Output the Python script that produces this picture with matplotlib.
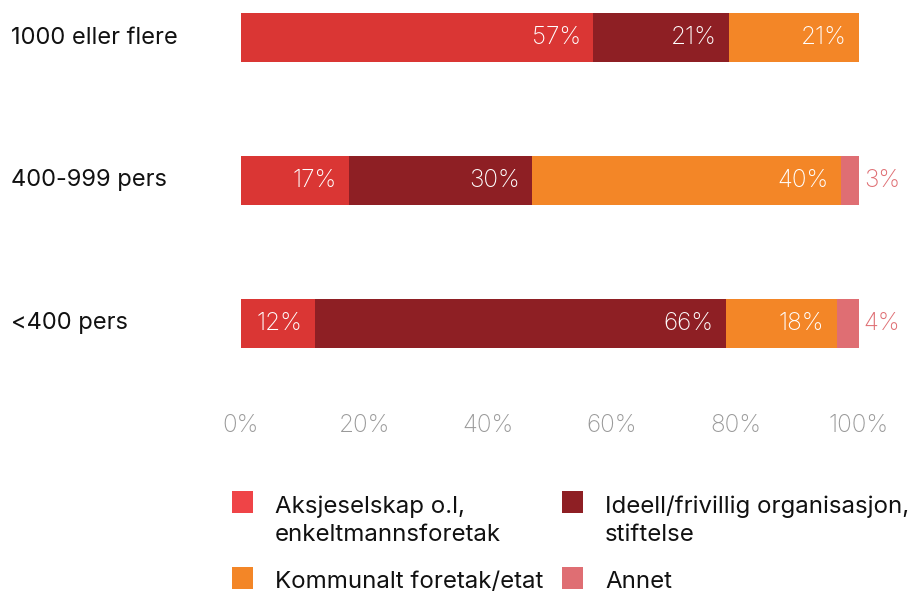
import matplotlib
matplotlib.use("Agg")
import matplotlib.pyplot as plt
from matplotlib.patches import Rectangle
from matplotlib.transforms import blended_transform_factory

plt.rcParams["font.family"] = ["Inter", "DejaVu Sans"]

# data (bar widths in %, printed labels as shown)
categories = ["1000 eller flere", "400-999 pers", "<400 pers"]
series = ["Aksjeselskap o.l,\nenkeltmannsforetak", "Ideell/frivillig organisasjon,\nstiftelse",
          "Kommunalt foretak/etat", "Annet"]
aksje = [57, 17.5, 12]
ideell = [22, 29.6, 66.4]
kommunal = [21, 50, 18]
annet = [0, 2.9, 3.6]
label_aksje = ["57%", "17%", "12%"]
label_ideell = ["21%", "30%", "66%"]
label_kommunal = ["21%", "40%", "18%"]
label_annet = ["", "3%", "4%"]

bar_colors = ["#da3634", "#8e1f24", "#f38627", "#df6e73"]
legend_colors = ["#ef4447", "#8e1f24", "#f38627", "#df6e73"]

W, H = 912, 594
fig = plt.figure(figsize=(W / 100, H / 100), dpi=100)
ax = fig.add_axes([241 / W, 1 - 410 / H, (859 - 241) / W, 410 / H])

y = list(range(len(categories)))
values = [aksje, ideell, kommunal, annet]
labels = [label_aksje, label_ideell, label_kommunal, label_annet]
left = [0] * len(categories)
for k, (vals, labs) in enumerate(zip(values, labels)):
    ax.barh(y, vals, left=left, height=0.343, color=bar_colors[k], lw=0)
    for i in range(len(categories)):
        end = left[i] + vals[i]
        if not labs[i]:
            continue
        if k < 3:
            ax.annotate(labs[i], (end, y[i]), xytext=(-9, 0), textcoords="offset points",
                        ha="right", va="center", color="white", fontsize=17.5, fontweight="light")
        else:
            ax.annotate(labs[i], (end, y[i]), xytext=(3.5, 0), textcoords="offset points",
                        ha="left", va="center", color=bar_colors[k], fontsize=17.5, fontweight="light")
    left = [a + b for a, b in zip(left, vals)]

ax.set_xlim(0, 100)
ax.set_ylim(2.609, -0.263)
ax.set_xticks(range(0, 101, 20))
ax.set_xticklabels([f"{t}%" for t in range(0, 101, 20)], color="#9a9a9a", fontsize=17.5, fontweight="light")
ax.tick_params(axis="x", length=0, pad=3)
ax.set_yticks([])
for s in ax.spines.values():
    s.set_visible(False)

tr = blended_transform_factory(fig.transFigure, ax.transData)
for i, c in enumerate(categories):
    fig.text(11 / W, y[i], c, transform=tr, ha="left", va="center", fontsize=17, color="#111111")

# legend, drawn by hand in two columns (square top-left, first text baseline)
leg_pos = [(232, 491, 513), (562, 491, 513), (232, 567, 588), (562, 567, 588)]
for (px, py, base), name, col in zip(leg_pos, series, legend_colors):
    fig.add_artist(Rectangle((px / W, 1 - (py + 22) / H), 21 / W, 22 / H,
                             transform=fig.transFigure, color=col, lw=0))
    for j, line in enumerate(name.split("\n")):
        fig.text((px + 43) / W, 1 - (base + 28 * j) / H, line, ha="left", va="baseline",
                 fontsize=17.3, color="#111111")

fig.savefig("out.png", dpi=100)
